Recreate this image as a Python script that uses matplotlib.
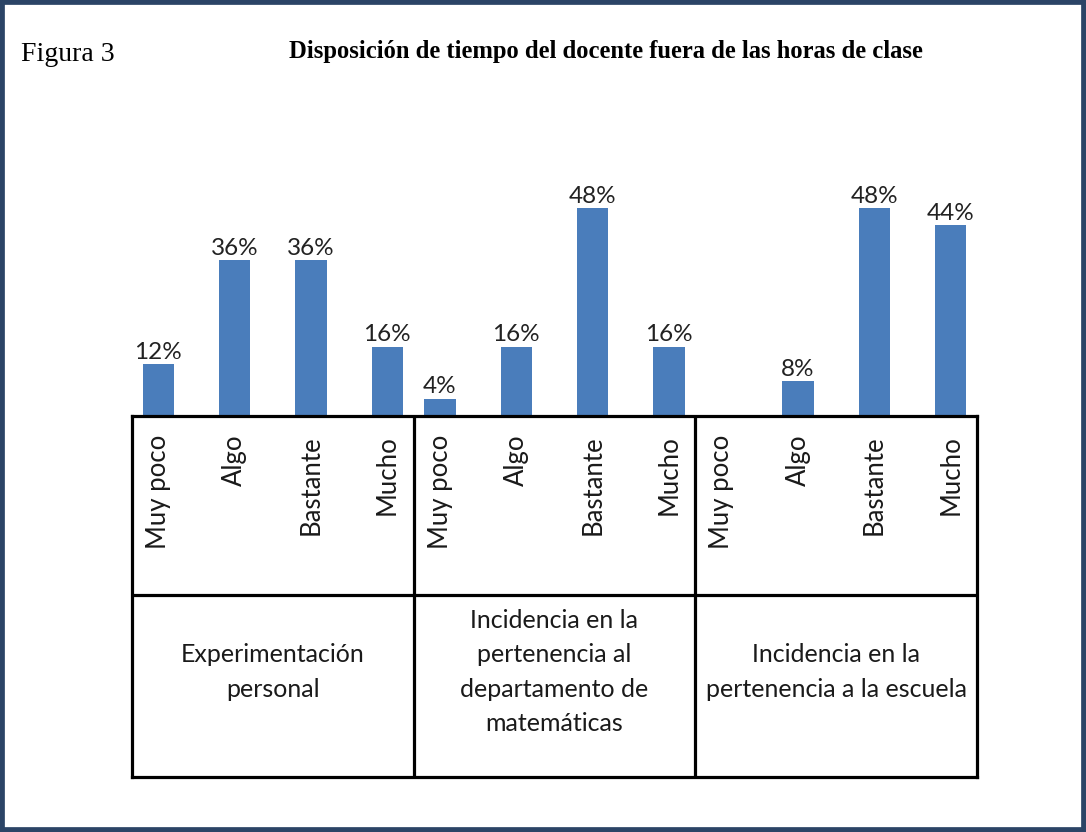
import matplotlib
matplotlib.use("Agg")
import matplotlib.pyplot as plt
from matplotlib.patches import Rectangle
import numpy as np

# data
groups = ["Experimentación\npersonal",
          "Incidencia en la\npertenencia al\ndepartamento de\nmatemáticas",
          "Incidencia en la\npertenencia a la escuela"]
levels = ["Muy poco", "Algo", "Bastante", "Mucho"]
experimentacion = [12, 36, 36, 16]
departamento = [4, 16, 48, 16]
escuela = [0, 8, 48, 44]

series = [experimentacion, departamento, escuela]
bar_color = "#4a7dbb"
frame_color = "#2b4466"
group_step = 3.69     # group spacing in bar slots
half_gap = 0.345      # cell border distance from outer bars

plt.rcParams["font.family"] = ["Lato", "DejaVu Sans"]

fig = plt.figure(figsize=(10.86, 8.32), dpi=100)
W, H = 1086, 832

x0, x1 = -half_gap, 2 * group_step + 3 + half_gap
left = 132 / W
width = (977 - 132) / W

# bars
ax = fig.add_axes([left, 1 - 416 / H, width, 260 / H])
for g, vals in enumerate(series):
    xs = g * group_step + np.arange(len(levels))
    ax.bar(xs, vals, width=0.41, color=bar_color, zorder=2)
    for x, v in zip(xs, vals):
        if v > 0:
            ax.annotate(f"{v}%", (x, v), xytext=(0, 1), textcoords="offset points",
                        ha="center", va="bottom", fontsize=17.5, color="#222222")
ax.set_xlim(x0, x1)
ax.set_ylim(0, 60)
ax.axis("off")

# category table under the bars
tab = fig.add_axes([left, 1 - 777 / H, width, 361 / H])
tab.set_xlim(x0, x1)
tab.set_ylim(0, 1)
tab.set_xticks([])
tab.set_yticks([])
for s in tab.spines.values():
    s.set_linewidth(2.3)
    s.set_color("black")
mid = (777 - 595) / 361
tab.axhline(mid, color="black", lw=2.3)
for g in range(1, len(groups)):
    xd = g * group_step - (group_step - 3) / 2
    tab.axvline(xd, color="black", lw=2.3)

for g, name in enumerate(groups):
    xs = g * group_step + np.arange(len(levels))
    for x, lab in zip(xs, levels):
        tab.text(x, (777 - 435) / 361, lab, rotation=90, ha="center", va="top",
                 fontsize=18.5, color="#1a1a1a")
    xc = g * group_step + 1.5
    tab.text(xc, (777 - 672) / 361, name, ha="center", va="center",
             fontsize=18, color="#1a1a1a", linespacing=1.6)

# heading
fig.text(21 / W, 1 - 61 / H, "Figura 3", fontsize=20, family="Liberation Serif",
         ha="left", va="baseline")
fig.text(289 / W, 1 - 58 / H, "Disposición de tiempo del docente fuera de las horas de clase",
         fontsize=17.7, family="Liberation Serif", weight="bold", ha="left", va="baseline")

# outer frame
fig.patches.append(Rectangle((0, 0), 1, 1, transform=fig.transFigure, fill=False,
                             edgecolor=frame_color, lw=7, zorder=10))

fig.savefig("out.png", dpi=100, facecolor="white")
